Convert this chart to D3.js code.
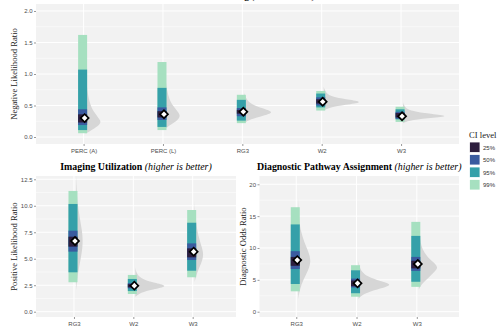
<!DOCTYPE html>
<html lang="en">
<head>
<meta charset="UTF-8" />
<script src="https://d3js.org/d3.v7.min.js"></script>
<style>
  body { margin: 0; background: #fff; }
  svg { display: block; }
</style>
</head>
<body>
<svg width="500" height="329"></svg>
<script>
// ---- data ----
// top panel: negative likelihood ratio
const nlrCats = ["PERC (A)", "PERC (L)", "RG3", "W2", "W3"];
const nlrPoint = [0.30, 0.36, 0.40, 0.56, 0.33];
const nlrCI25 = [[0.23, 0.36], [0.31, 0.41], [0.37, 0.43], [0.53, 0.60], [0.31, 0.38]];
const nlrCI50 = [[0.19, 0.44], [0.27, 0.47], [0.33, 0.46], [0.50, 0.63], [0.29, 0.40]];
const nlrCI95 = [[0.11, 1.07], [0.16, 0.78], [0.26, 0.59], [0.47, 0.69], [0.28, 0.44]];
const nlrCI99 = [[0.06, 1.62], [0.11, 1.19], [0.22, 0.67], [0.42, 0.73], [0.24, 0.48]];
const nlrTicks = [0, 0.5, 1, 1.5, 2];
// slab profiles: [value, relative density]
const nlrSlabs = [
  [[0.05,0],[0.1,0.1],[0.17,0.26],[0.24,0.33],[0.3,0.27],[0.4,0.17],[0.5,0.1],[0.7,0.04],[0.9,0.015],[1.2,0]],
  [[0.12,0],[0.18,0.08],[0.25,0.24],[0.33,0.33],[0.4,0.27],[0.5,0.16],[0.6,0.09],[0.75,0.04],[0.9,0.015],[1.1,0]],
  [[0.22,0],[0.28,0.12],[0.34,0.4],[0.39,0.62],[0.44,0.45],[0.5,0.2],[0.56,0.08],[0.64,0.02],[0.7,0]],
  [[0.42,0],[0.47,0.12],[0.51,0.45],[0.55,0.85],[0.59,0.55],[0.63,0.22],[0.68,0.07],[0.75,0.02],[0.8,0]],
  [[0.22,0],[0.26,0.1],[0.3,0.5],[0.33,1.0],[0.36,0.65],[0.4,0.25],[0.44,0.08],[0.5,0.02],[0.55,0]]
];

// bottom left: positive likelihood ratio
const plrCats = ["RG3", "W2", "W3"];
const plrPoint = [6.68, 2.46, 5.67];
const plrCI25 = [[6.14, 7.08], [2.3, 2.6], [5.13, 5.98]];
const plrCI50 = [[5.67, 7.65], [2.2, 2.7], [4.88, 6.45]];
const plrCI95 = [[3.72, 10.17], [1.95, 3.09], [3.87, 8.4]];
const plrCI99 = [[2.78, 11.4], [1.67, 3.47], [3.25, 9.6]];
const plrTicks = [0, 2.5, 5, 7.5, 10, 12.5];
const plrSlabs = [
  [[2,0],[3,0.03],[4,0.08],[5,0.14],[6,0.19],[6.8,0.2],[7.6,0.18],[8.5,0.13],[9.5,0.08],[10.5,0.04],[12,0.01],[13,0]],
  [[1.4,0],[1.8,0.15],[2.1,0.5],[2.4,1.0],[2.7,0.6],[3.0,0.25],[3.4,0.08],[3.8,0.02],[4.2,0]],
  [[2.8,0],[3.5,0.05],[4.2,0.14],[4.9,0.23],[5.4,0.26],[6,0.22],[6.8,0.14],[7.6,0.08],[8.5,0.04],[9.5,0.01],[10.5,0]]
];

// bottom right: diagnostic odds ratio
const dorCats = ["RG3", "W2", "W3"];
const dorPoint = [8.1, 4.45, 7.5];
const dorCI25 = [[7.2, 8.6], [4.0, 4.9], [6.8, 8.0]];
const dorCI50 = [[6.7, 9.5], [3.8, 5.2], [6.4, 8.6]];
const dorCI95 = [[4.35, 13.7], [2.9, 6.5], [4.7, 11.9]];
const dorCI99 = [[3.2, 16.4], [2.35, 7.3], [3.9, 14.1]];
const dorTicks = [0, 5, 10, 15, 20];
const dorSlabs = [
  [[2,0],[3.5,0.04],[5,0.14],[6.5,0.28],[8,0.36],[9.5,0.28],[11,0.16],[12.5,0.08],[14,0.03],[16,0.01],[18,0]],
  [[2,0],[2.8,0.12],[3.5,0.5],[4.2,1.0],[4.8,0.6],[5.5,0.25],[6.3,0.08],[7.2,0.02],[8,0]],
  [[3.5,0],[4.5,0.1],[5.5,0.3],[6.5,0.48],[7,0.53],[7.7,0.42],[8.7,0.22],[9.8,0.1],[11,0.04],[12.5,0.01],[14,0]]
];

const ciLevels = ["25%", "50%", "95%", "99%"];
const ciColors = ["#2d1e3e", "#3a5b9f", "#35a0a9", "#a6e0c0"];

const svg = d3.select("svg");
const serif = "Liberation Serif, Times New Roman, serif";
const sans = "Liberation Sans, Arial, sans-serif";

function panel(o) {
  const x = d3.scaleLinear().domain(o.xDom).range([o.left, o.right]);
  const y = d3.scaleLinear().domain(o.yDom).range([o.bottom, o.top]);
  const g = svg.append("g");

  g.append("rect").attr("x", o.left).attr("y", o.top)
    .attr("width", o.right - o.left).attr("height", o.bottom - o.top)
    .attr("fill", "#f2f2f2");

  // grid
  const step = o.ticks[1] - o.ticks[0];
  const minor = [o.ticks[0] - step / 2].concat(o.ticks.map(t => t + step / 2));
  g.selectAll(".gmin").data(minor.filter(t => y(t) < o.bottom && y(t) > o.top)).join("line")
    .attr("x1", o.left).attr("x2", o.right)
    .attr("y1", d => y(d)).attr("y2", d => y(d))
    .attr("stroke", "#fff").attr("stroke-width", 0.5);
  g.selectAll(".gmaj").data(o.ticks).join("line")
    .attr("x1", o.left).attr("x2", o.right)
    .attr("y1", d => y(d)).attr("y2", d => y(d))
    .attr("stroke", "#fff").attr("stroke-width", 1);
  g.selectAll(".gx").data(o.cats).join("line")
    .attr("x1", (d, i) => x(i)).attr("x2", (d, i) => x(i))
    .attr("y1", o.top).attr("y2", o.bottom)
    .attr("stroke", "#fff").attr("stroke-width", 1);

  // slabs
  const w = d3.scaleLinear().domain([0, 1]).range([0, o.slabMax]);
  o.slabs.forEach((s, i) => {
    const base = x(i) + 2;
    const area = d3.area()
      .y(d => y(d[0]))
      .x0(base)
      .x1(d => base + w(d[1]))
      .curve(d3.curveBasis);
    g.append("path").attr("d", area(s)).attr("fill", "#d6d6d6");
  });

  // intervals, widest first
  const cis = [o.ci99, o.ci95, o.ci50, o.ci25];
  cis.forEach((ci, k) => {
    g.selectAll(null).data(ci).join("rect")
      .attr("x", (d, i) => x(i) - 5.5)
      .attr("width", 9)
      .attr("y", d => y(d[1]))
      .attr("height", d => y(d[0]) - y(d[1]))
      .attr("fill", ciColors[3 - k]);
  });

  // point estimates
  const sym = d3.symbol().type(d3.symbolSquare).size(32);
  g.selectAll(".pt").data(o.point).join("path")
    .attr("d", sym)
    .attr("transform", (d, i) => `translate(${x(i) + 1},${y(d)}) rotate(45)`)
    .attr("fill", "#fff").attr("stroke", "#000").attr("stroke-width", 1.7);

  // axes
  const ya = g.append("g").attr("transform", `translate(${o.left},0)`)
    .call(d3.axisLeft(y).tickValues(o.ticks).tickSize(2).tickPadding(1.5).tickFormat(o.fmt));
  const xa = g.append("g").attr("transform", `translate(0,${o.bottom})`)
    .call(d3.axisBottom(x).tickValues(o.cats.map((c, i) => i)).tickSize(2).tickPadding(2.5)
      .tickFormat(i => o.cats[i]));
  [ya, xa].forEach(a => {
    a.select(".domain").remove();
    a.selectAll("line").attr("stroke", "#333").attr("stroke-width", 0.5);
    a.selectAll("text").attr("font-family", sans).attr("font-size", 6).attr("fill", "#4d4d4d");
  });

  // y title
  g.append("text")
    .attr("transform", `translate(${o.left - o.ytOff},${(o.top + o.bottom) / 2}) rotate(-90)`)
    .attr("text-anchor", "middle")
    .attr("font-family", serif).attr("font-size", 8.6).attr("fill", "#222")
    .text(o.yTitle);

  // panel title
  const t = g.append("text")
    .attr("x", (o.left + o.right) / 2).attr("y", o.titleY)
    .attr("text-anchor", "middle").attr("font-family", serif).attr("font-size", 9.9).attr("fill", "#000");
  t.append("tspan").attr("font-weight", "bold").text(o.title + " ");
  t.append("tspan").attr("font-style", "italic").text(o.sub);
}

panel({
  cats: nlrCats, point: nlrPoint, ci25: nlrCI25, ci50: nlrCI50, ci95: nlrCI95, ci99: nlrCI99,
  slabs: nlrSlabs, ticks: nlrTicks, fmt: d3.format(".1f"),
  left: 36, right: 459, top: 4, bottom: 144,
  xDom: [-0.6, 4.73], yDom: [-0.111, 2.111], slabMax: 48, ytOff: 19,
  yTitle: "Negative Likelihood Ratio",
  title: "Rule-out Testing", sub: "(lower is better)", titleY: -1.5
});

panel({
  cats: plrCats, point: plrPoint, ci25: plrCI25, ci50: plrCI50, ci95: plrCI95, ci99: plrCI99,
  slabs: plrSlabs, ticks: plrTicks, fmt: d3.format(".1f"),
  left: 36, right: 236, top: 176, bottom: 317,
  xDom: [-0.64, 2.73], yDom: [-0.5, 12.81], slabMax: 34, ytOff: 19,
  yTitle: "Positive Likelihood Ratio",
  title: "Imaging Utilization", sub: "(higher is better)", titleY: 170
});

panel({
  cats: dorCats, point: dorPoint, ci25: dorCI25, ci50: dorCI50, ci95: dorCI95, ci99: dorCI99,
  slabs: dorSlabs, ticks: dorTicks, fmt: d3.format("d"),
  left: 259.5, right: 459, top: 176, bottom: 317,
  xDom: [-0.61, 2.70], yDom: [-0.83, 21.3], slabMax: 36, ytOff: 14,
  yTitle: "Diagnostic Odds Ratio",
  title: "Diagnostic Pathway Assignment", sub: "(higher is better)", titleY: 170
});

// legend
const leg = svg.append("g").attr("transform", "translate(469,130)");
leg.append("text").attr("x", 0).attr("y", 8)
  .attr("font-family", serif).attr("font-size", 8.6).attr("fill", "#222").text("CI level");
leg.selectAll(".k").data(ciLevels).join("rect")
  .attr("x", 0.5).attr("y", (d, i) => 12 + i * 12.5)
  .attr("width", 10.5).attr("height", 10.5)
  .attr("fill", (d, i) => ciColors[i]).attr("stroke", "#fff").attr("stroke-width", 0.8);
leg.selectAll(".l").data(ciLevels).join("text")
  .attr("x", 14).attr("y", (d, i) => 12 + i * 12.5 + 7.5)
  .attr("font-family", sans).attr("font-size", 6).attr("fill", "#333")
  .text(d => d);
</script>
</body>
</html>
